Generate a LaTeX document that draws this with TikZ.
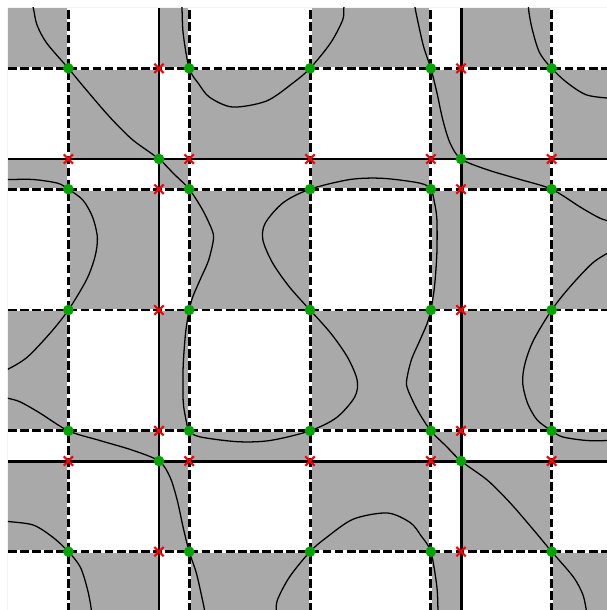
\documentclass[tikz,border=0pt]{standalone}
\usepackage{tikz}
\definecolor{cellgray}{RGB}{169,169,169}
\definecolor{dotgreen}{RGB}{0,165,0}
\definecolor{crossred}{RGB}{255,0,0}
\tikzset{
  gridline/.style={line width=1.4pt},
  dashline/.style={line width=1.4pt,dash pattern=on 4.1pt off 1.6pt},
  crossmark/.style={crossred,line width=1pt}
}

\begin{document}
\begin{tikzpicture}[x=2cm,y=2cm,line width=0.6pt]
  \useasboundingbox (-2.566,-2.483) rectangle (2.450,2.566);
  \clip (-2.5,-2.6) rectangle (2.6,2.5);
  % checkerboard of signs
  \fill[cellgray,even odd rule] (-2.5,-2.5) rectangle (2.5,2.5)
    \foreach \a/\b in {-2/-1.25,-1/0,1/1.25,2/2.5}{(\a,-2.5) rectangle (\b,2.5)}
    \foreach \a/\b in {1.25/2,0/1,-1.25/-1,-2.5/-2}{(-2.5,\a) rectangle (2.5,\b)};
  % zero curves (point symmetric about the origin)
  \foreach \r in {0,180}{
  \begin{scope}[rotate=\r]
    \draw plot[smooth] coordinates {(-2.31,2.57) (-2.29,2.5) (-2.26,2.36) (-2.18,2.21) (-2,2)
      (-1.85,1.82) (-1.66,1.60) (-1.47,1.41) (-1.25,1.25) (-1.13,1.13) (-1,1) (-0.89,0.83)
      (-0.81,0.66) (-0.80,0.58) (-0.84,0.41) (-0.91,0.25) (-0.97,0.11) (-1,0) (-1.03,-0.19)
      (-1.05,-0.47) (-1.05,-0.75) (-1.03,-0.89) (-1,-1) (-0.91,-1.05) (-0.60,-1.09)
      (-0.33,-1.08) (0,-1) (0.22,-0.89) (0.37,-0.72) (0.39,-0.58) (0.31,-0.39) (0.17,-0.19)
      (0,0)};
    \draw plot[smooth] coordinates {(-1.07,2.57) (-1.06,2.5) (-1.05,2.29) (-1,2) (-0.92,1.87)
      (-0.83,1.76) (-0.64,1.68) (-0.36,1.73) (-0.14,1.88) (0,2) (0.17,2.21) (0.27,2.40)
      (0.28,2.5) (0.29,2.57)};
    \draw plot[smooth] coordinates {(-2.57,1.08) (-2.5,1.08) (-2.29,1.08) (-2.09,1.05) (-2,1)
      (-1.88,0.91) (-1.80,0.77) (-1.76,0.60) (-1.78,0.44) (-1.85,0.25) (-2,0) (-2.15,-0.19)
      (-2.34,-0.39) (-2.5,-0.49) (-2.57,-0.51)};
    \draw plot[smooth] coordinates {(-2.57,-0.71) (-2.5,-0.73) (-2.40,-0.76) (-2.24,-0.85)
      (-2,-1) (-1.74,-1.08) (-1.47,-1.16) (-1.25,-1.25) (-1.16,-1.38) (-1.10,-1.57)
      (-1.05,-1.80) (-1,-2) (-0.94,-2.18) (-0.89,-2.40) (-0.87,-2.5) (-0.86,-2.57)};
    \draw plot[smooth] coordinates {(-2.57,-1.74) (-2.5,-1.75) (-2.29,-1.78) (-2.13,-1.88)
      (-2,-2) (-1.90,-2.13) (-1.84,-2.32) (-1.81,-2.48) (-1.81,-2.57)};
  \end{scope}}
  % dashed and solid lines
  \foreach \p in {-2,-1,0,1,2}{
    \draw[gridline,white] (\p,-2.5) -- (\p,2.5) (-2.5,\p) -- (2.5,\p);
    \draw[dashline] (\p,-2.5) -- (\p,2.5) (-2.5,\p) -- (2.5,\p);
  }
  \foreach \p in {-1.25,1.25}{\draw[gridline] (\p,-2.5) -- (\p,2.5) (-2.5,\p) -- (2.5,\p);}
  % markers
  \foreach \x in {-2,-1,0,1,2}{\foreach \y in {-2,-1,0,1,2}{\fill[dotgreen] (\x,\y) circle (2.5pt);}}
  \foreach \x in {-1.25,1.25}{\foreach \y in {-1.25,1.25}{\fill[dotgreen] (\x,\y) circle (2.5pt);}}
  \foreach \d in {-2,-1,0,1,2}{\foreach \s in {-1.25,1.25}{
    \draw[crossmark] (\d,\s) +(-2.2pt,-2.2pt) -- +(2.2pt,2.2pt) +(-2.2pt,2.2pt) -- +(2.2pt,-2.2pt);
    \draw[crossmark] (\s,\d) +(-2.2pt,-2.2pt) -- +(2.2pt,2.2pt) +(-2.2pt,2.2pt) -- +(2.2pt,-2.2pt);
  }}
\end{tikzpicture}
\end{document}
